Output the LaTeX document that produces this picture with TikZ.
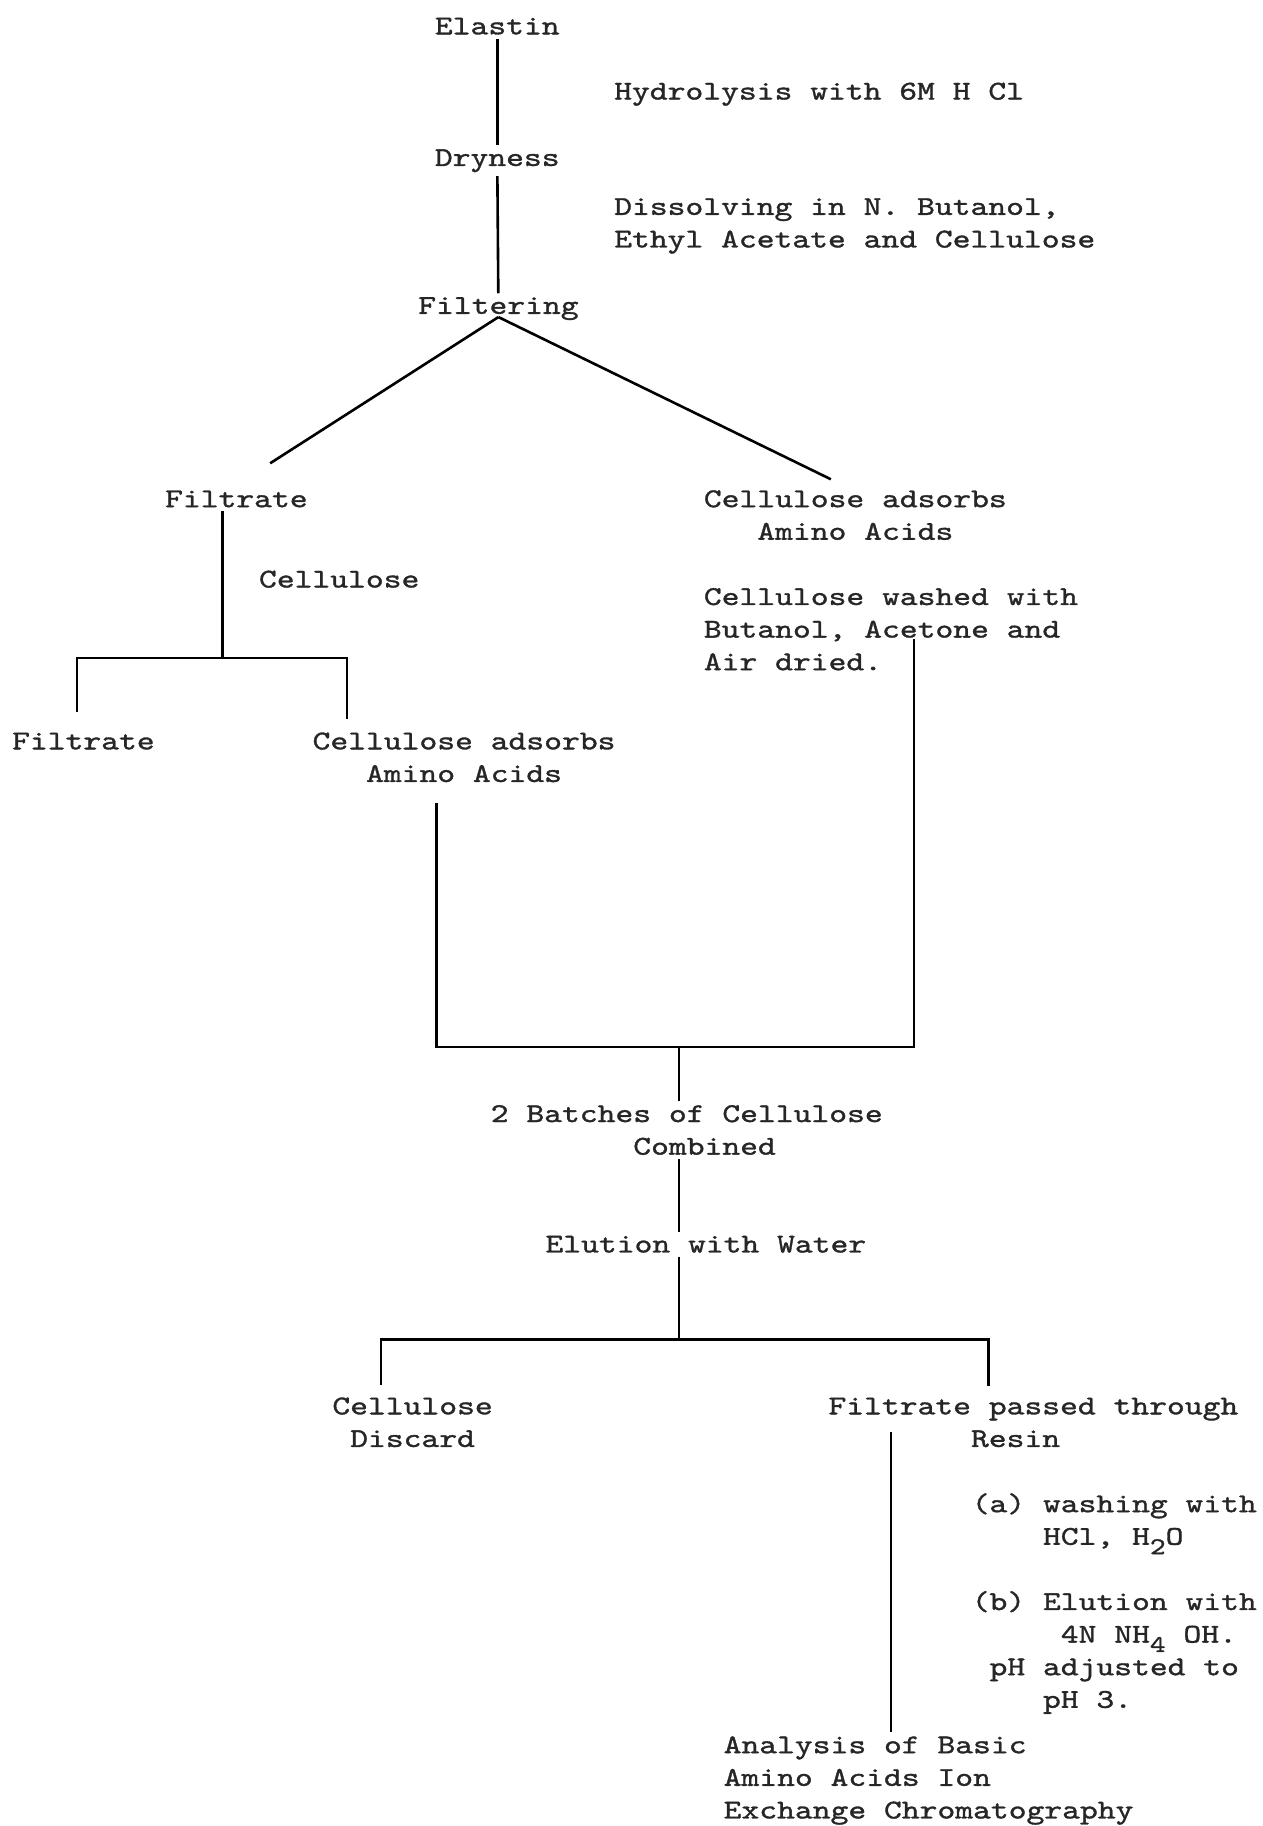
\documentclass[tikz,border=0pt]{standalone}
\usepackage{fontspec}
\newfontfamily\typewr{lmmono10-regular}[Extension=.otf, FakeStretch=1.25, FakeBold=1.2]
\usetikzlibrary{calc}
\newcommand\tsp[1]{\hspace*{#1\fontcharwd\font`0}}
\newcommand\lowsub[1]{\raisebox{-0.8ex}{\fontsize{12pt}{12pt}\selectfont #1}}
\begin{document}
\begin{tikzpicture}[x=0.5821pt, y=-0.5821pt,
  txt/.style={inner sep=0pt, outer sep=2pt, font=\typewr\fontsize{13.57pt}{16.3pt}\selectfont, align=left, text=black!85},
  ln/.style={line width=1.3pt, black}]
\useasboundingbox (0,0) rectangle (1084,1568);
% text nodes (base anchor = baseline of the last line)
\node[txt, anchor=base] (elastin) at (427,29.5) {Elastin};
\node[txt, anchor=base west] (hydro) at (524,85.5) {Hydrolysis with 6M H Cl};
\node[txt, anchor=base] (dryness) at (427,142.5) {Dryness};
\node[txt, anchor=base west] (dissolve) at (524,212.5) {Dissolving in N. Butanol,\\Ethyl Acetate and Cellulose};
\node[txt, anchor=base] (filtering) at (428,269.5) {Filtering};
\node[txt, anchor=base] (filtrateA) at (203,435.5) {Filtrate};
\node[txt, anchor=base west] (adsorbA) at (601,463.5) {Cellulose adsorbs\\\tsp{3}Amino Acids};
\node[txt, anchor=base west] (celluloseL) at (219,504.5) {Cellulose};
\node[txt, anchor=base west] (washed) at (601,575.5) {Cellulose washed with\\Butanol, Acetone and\\Air dried.};
\node[txt, anchor=base west] (filtrateB) at (7,643.5) {Filtrate};
\node[txt, anchor=base west] (adsorbB) at (265,671.5) {Cellulose adsorbs\\\tsp{3}Amino Acids};
\node[txt, anchor=base west] (batches) at (418,991.5) {2 Batches of Cellulose\\\tsp{8}Combined};
\node[txt, anchor=base west] (elution) at (465,1075.5) {Elution with Water};
\node[txt, anchor=base west] (discard) at (282,1242.5) {Cellulose\\\tsp{1}Discard};
\node[txt, anchor=base west] (passed) at (708,1242.5) {Filtrate passed through\\\tsp{8}Resin};
\node[txt, anchor=base west] (stepa) at (831,1326.5) {(a) washing with\\\tsp{4}HCl, H\lowsub{2}O};
\node[txt, anchor=base west] (stepb) at (831,1466.5) {(b) Elution with\\\tsp{5}4N NH\lowsub{4} OH.\\\tsp{1}pH adjusted to\\\tsp{4}pH 3.};
\node[txt, anchor=base west] (analysis) at (618,1561.5) {Analysis of Basic\\Amino Acids Ion\\Exchange Chromatography};
% junctions
\coordinate (jA) at (191,565);
\coordinate (jB) at (583,899);
\coordinate (jC) at (583,1150);
\coordinate (bL) at ($(adsorbB.north west)+(110,64)$);
\coordinate (bR) at ($(washed.north west)+(184,47)$);
% connectors
\draw[ln] (elastin) -- (dryness);
\draw[ln] (dryness) -- (filtering);
\draw[ln] ($(filtering.south)+(0,-6)$) -- ($(filtrateA.north)+(29,-20)$);
\draw[ln] ($(filtering.south)+(0,-6)$) -- ($(adsorbA.north)+(-21,-6)$);
\draw[ln] (filtrateA.south -| jA) -- (jA);
\draw[ln] ($(filtrateB.north west)+(59,-14)$) |- (jA) -| ($(adsorbB.north west)+(33,-8)$);
\draw[ln] (bL) -- (bL |- jB) -- (bR |- jB) -- (bR);
\draw[ln] (jB) -- (batches.north -| jB);
\draw[ln] (batches.south -| jB) -- (elution.north -| jB);
\draw[ln] (elution.south -| jC) -- (jC);
\draw[ln] ($(discard.north west)+(45,-7)$) |- (jC) -| ($(passed.north west)+(141,-7)$);
\draw[ln] ($(passed.north west)+(57,33)$) -- ($(analysis.north west)+(147,0)$);
\end{tikzpicture}
\end{document}
